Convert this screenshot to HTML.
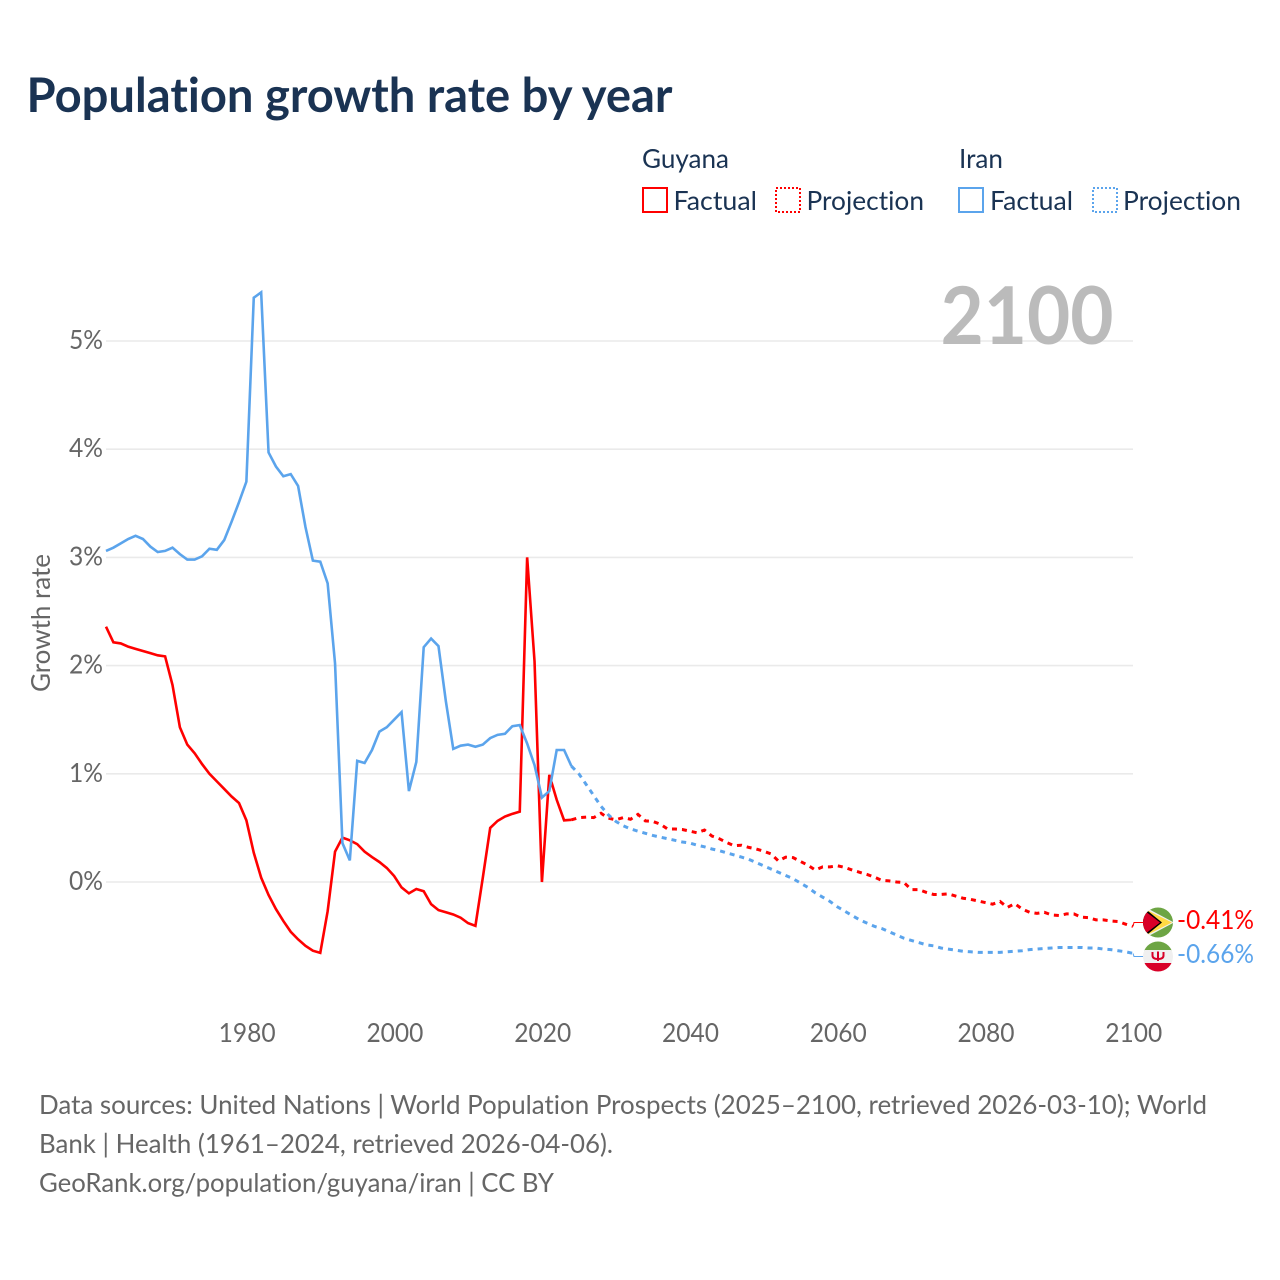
<!DOCTYPE html>
<html lang="en">
<head>
<meta charset="utf-8">
<title>Population growth rate by year</title>
<style>
html,body{margin:0;padding:0;background:#fff;}
svg{display:block;}
text{font-family:"Lato","Carlito","Liberation Sans",sans-serif;font-variant-ligatures:none;}
</style>
</head>
<body>
<svg id="chart" width="1280" height="1280" viewBox="0 0 1280 1280">
  <defs>
    <clipPath id="flag-clip-guyana"><circle cx="1158" cy="922.5" r="15"></circle></clipPath>
    <clipPath id="flag-clip-iran"><circle cx="1158" cy="956.5" r="15"></circle></clipPath>
  </defs>
  <text x="26.500" y="112" font-size="48" font-weight="700" fill="#1a3353" textLength="646" lengthAdjust="spacingAndGlyphs">Population growth rate by year</text>

  <g>
    <text x="642" y="168" font-size="26" fill="#1a3353" textLength="87" lengthAdjust="spacingAndGlyphs">Guyana</text>
    <rect x="643" y="188" width="24" height="24" fill="none" stroke="#ff0000" stroke-width="2"></rect>
    <text x="673.500" y="210" font-size="26" fill="#1a3353" textLength="83.500" lengthAdjust="spacingAndGlyphs">Factual</text>
    <rect x="776" y="188" width="24" height="24" fill="none" stroke="#ff0000" stroke-width="2" stroke-dasharray="2 2"></rect>
    <text x="806.500" y="210" font-size="26" fill="#1a3353" textLength="117.500" lengthAdjust="spacingAndGlyphs">Projection</text>
    <text x="959" y="168" font-size="26" fill="#1a3353" textLength="44" lengthAdjust="spacingAndGlyphs">Iran</text>
    <rect x="959" y="188" width="24" height="24" fill="none" stroke="#5ba4ec" stroke-width="2"></rect>
    <text x="990" y="210" font-size="26" fill="#1a3353" textLength="83" lengthAdjust="spacingAndGlyphs">Factual</text>
    <rect x="1093" y="188" width="24" height="24" fill="none" stroke="#5ba4ec" stroke-width="2" stroke-dasharray="2 2"></rect>
    <text x="1123" y="210" font-size="26" fill="#1a3353" textLength="118" lengthAdjust="spacingAndGlyphs">Projection</text>
  </g>

  <g id="grid-layer"></g>
  <text x="940.500" y="344" font-size="80" font-weight="700" fill="#bbbbbb" textLength="173" lengthAdjust="spacingAndGlyphs">2100</text>
  <g id="y-tick-layer"></g>
  <g id="x-tick-layer"></g>
  <text transform="translate(50,623) rotate(-90)" text-anchor="middle" font-size="26" fill="#666666" textLength="138" lengthAdjust="spacingAndGlyphs">Growth rate</text>
  <g id="series-layer"></g>

  <g clip-path="url(#flag-clip-guyana)">
    <rect x="1143" y="907" width="30" height="31" fill="#6da544"></rect>
    <polygon points="1143,906 1174,922.5 1143,939" fill="#f0f0f0"></polygon>
    <polygon points="1143,908 1172,922.5 1143,937" fill="#ffda44"></polygon>
    <polygon points="1143,907 1162,922.5 1143,938" fill="#000000"></polygon>
    <polygon points="1143,909.500 1160,922.5 1143,935.500" fill="#d80027"></polygon>
  </g>
  <g clip-path="url(#flag-clip-iran)">
    <rect x="1143" y="941" width="30" height="10" fill="#6da544"></rect>
    <rect x="1143" y="950" width="30" height="13" fill="#f0f0f0"></rect>
    <rect x="1143" y="963" width="30" height="11" fill="#d80027"></rect>
    <path d="M1152.500 952 v3.500 q0 3.500 5.500 3.500 q5.500 0 5.500-3.500 v-3.500 M1158 951.500 v9.500" fill="none" stroke="#d80027" stroke-width="2"></path>
  </g>
  <text x="1177" y="929" font-size="26" fill="#ff0000" textLength="77" lengthAdjust="spacingAndGlyphs">-0.41%</text>
  <text x="1177" y="963" font-size="26" fill="#5ba4ec" textLength="77" lengthAdjust="spacingAndGlyphs">-0.66%</text>

  <g>
    <text x="39" y="1114" font-size="26.500" fill="#666666" textLength="1168" lengthAdjust="spacingAndGlyphs">Data sources: United Nations | World Population Prospects (2025–2100, retrieved 2026-03-10); World</text>
    <text x="39" y="1153" font-size="26.500" fill="#666666" textLength="574" lengthAdjust="spacingAndGlyphs">Bank | Health (1961–2024, retrieved 2026-04-06).</text>
    <text x="39" y="1192" font-size="26.500" fill="#666666" textLength="515" lengthAdjust="spacingAndGlyphs">GeoRank.org/population/guyana/iran | CC BY</text>
  </g>
</svg>
<script>
const factualStartYear = 1961;
const projectionStartYear = 2024;
const xTickYears = [1980, 2000, 2020, 2040, 2060, 2080, 2100];
const yTickValues = [0, 1, 2, 3, 4, 5];
const yTickLabels = ["0%", "1%", "2%", "3%", "4%", "5%"];

const guyanaFactual = [2.36,2.215,2.205,2.175,2.155,2.135,2.115,2.095,2.085,1.82,1.43,1.27,1.19,1.09,1.0,0.93,0.86,0.79,0.73,0.57,0.27,0.04,-0.12,-0.25,-0.36,-0.46,-0.53,-0.59,-0.635,-0.655,-0.27,0.28,0.41,0.385,0.35,0.28,0.23,0.185,0.13,0.055,-0.05,-0.105,-0.065,-0.085,-0.205,-0.26,-0.28,-0.30,-0.33,-0.38,-0.405,0.04,0.50,0.565,0.605,0.63,0.65,3.0,2.04,0.0,0.99,0.76,0.57,0.575];
const iranFactual = [3.06,3.09,3.13,3.17,3.20,3.17,3.10,3.05,3.06,3.09,3.03,2.98,2.98,3.01,3.08,3.07,3.16,3.33,3.51,3.70,5.40,5.45,3.97,3.84,3.75,3.77,3.66,3.28,2.97,2.96,2.76,2.02,0.36,0.20,1.12,1.10,1.22,1.39,1.43,1.50,1.57,0.84,1.11,2.17,2.25,2.18,1.67,1.23,1.26,1.27,1.25,1.27,1.33,1.36,1.37,1.44,1.45,1.28,1.08,0.78,0.84,1.22,1.22,1.07];
const guyanaProjection = [0.575,0.595,0.60,0.595,0.635,0.59,0.575,0.595,0.58,0.625,0.565,0.56,0.535,0.49,0.49,0.485,0.47,0.455,0.48,0.425,0.40,0.365,0.335,0.34,0.32,0.305,0.285,0.26,0.195,0.23,0.225,0.19,0.155,0.11,0.14,0.14,0.15,0.135,0.11,0.09,0.07,0.045,0.015,0.01,0.0,-0.005,-0.07,-0.07,-0.095,-0.115,-0.115,-0.11,-0.13,-0.15,-0.16,-0.175,-0.19,-0.205,-0.18,-0.235,-0.20,-0.25,-0.28,-0.29,-0.28,-0.305,-0.31,-0.295,-0.295,-0.325,-0.33,-0.35,-0.35,-0.36,-0.365,-0.39,-0.41];
const iranProjection = [1.07,1.00,0.90,0.80,0.70,0.62,0.56,0.52,0.49,0.47,0.45,0.43,0.415,0.40,0.385,0.37,0.36,0.34,0.325,0.305,0.29,0.27,0.25,0.23,0.21,0.18,0.15,0.12,0.09,0.06,0.03,-0.01,-0.05,-0.10,-0.14,-0.18,-0.23,-0.27,-0.31,-0.35,-0.38,-0.41,-0.43,-0.46,-0.49,-0.52,-0.54,-0.56,-0.58,-0.59,-0.61,-0.62,-0.63,-0.64,-0.645,-0.65,-0.65,-0.65,-0.65,-0.645,-0.64,-0.635,-0.625,-0.62,-0.615,-0.61,-0.605,-0.605,-0.605,-0.605,-0.61,-0.61,-0.62,-0.625,-0.635,-0.645,-0.66];

function xScale(year) { return 106 + (year - 1961) * (1027 / 139); }
function yScale(value) { return 882 - value * 108.2; }

const NS = "http://www.w3.org/2000/svg";
const gridLayer = document.getElementById("grid-layer");
const yTickLayer = document.getElementById("y-tick-layer");
const xTickLayer = document.getElementById("x-tick-layer");
const seriesLayer = document.getElementById("series-layer");

yTickValues.forEach(function (v, i) {
  const line = document.createElementNS(NS, "line");
  line.setAttribute("x1", 106);
  line.setAttribute("x2", 1133);
  line.setAttribute("y1", yScale(v));
  line.setAttribute("y2", yScale(v));
  line.setAttribute("stroke", "#eaeaea");
  line.setAttribute("stroke-width", "1.6");
  
  
  gridLayer.appendChild(line);

  const label = document.createElementNS(NS, "text");
  label.setAttribute("x", 103);
  label.setAttribute("y", yScale(v) + 8);
  label.setAttribute("text-anchor", "end");
  label.setAttribute("font-size", "26");
  label.setAttribute("fill", "#666666");
  label.setAttribute("textLength", "34");
  label.setAttribute("lengthAdjust", "spacingAndGlyphs");
  label.textContent = yTickLabels[i];
  
  
  yTickLayer.appendChild(label);
});

xTickYears.forEach(function (year) {
  const label = document.createElementNS(NS, "text");
  label.setAttribute("x", xScale(year) + 0.8);
  label.setAttribute("y", 1042);
  label.setAttribute("text-anchor", "middle");
  label.setAttribute("font-size", "26");
  label.setAttribute("fill", "#666666");
  label.setAttribute("textLength", "57");
  label.setAttribute("lengthAdjust", "spacingAndGlyphs");
  label.textContent = String(year);
  
  
  xTickLayer.appendChild(label);
});

function seriesPoints(values, startYear) {
  return values.map(function (v, i) {
    return xScale(startYear + i).toFixed(2) + "," + yScale(v).toFixed(2);
  }).join(" ");
}

function drawSeries(values, startYear, color, dash, name) {
  const line = document.createElementNS(NS, "polyline");
  line.setAttribute("points", seriesPoints(values, startYear));
  line.setAttribute("fill", "none");
  line.setAttribute("stroke", color);
  line.setAttribute("stroke-width", dash ? "3" : "2.6");
  line.setAttribute("stroke-linejoin", "miter");
  if (dash) line.setAttribute("stroke-dasharray", dash);
  
  
  seriesLayer.appendChild(line);
}

function drawConnector(values, flagY, color, name) {
  const endX = xScale(2100);
  const endY = yScale(values[values.length - 1]);
  const path = document.createElementNS(NS, "polyline");
  path.setAttribute("points", endX + "," + endY + " " + (endX + 1) + "," + flagY + " 1145," + flagY);
  path.setAttribute("fill", "none");
  path.setAttribute("stroke", color);
  path.setAttribute("stroke-width", "1");
  
  
  seriesLayer.appendChild(path);
}

drawSeries(guyanaFactual, factualStartYear, "#ff0000", null, "guyana-factual-line");
drawSeries(guyanaProjection, projectionStartYear, "#ff0000", "5 5", "guyana-projection-line");
drawSeries(iranFactual, factualStartYear, "#5ba4ec", null, "iran-factual-line");
drawSeries(iranProjection, projectionStartYear, "#5ba4ec", "5 5", "iran-projection-line");
drawConnector(guyanaProjection, 922.5, "#ff0000", "guyana-end-connector");
drawConnector(iranProjection, 956.5, "#5ba4ec", "iran-end-connector");
</script>
</body>
</html>
